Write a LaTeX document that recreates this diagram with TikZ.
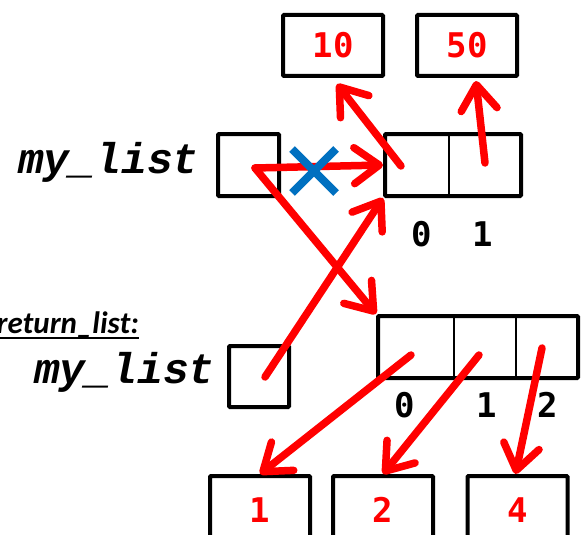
\documentclass[tikz,border=0pt]{standalone}
\usepackage{fontspec}
\newfontfamily\codefont{Liberation Mono}
\newfontfamily\numfont{DejaVu Sans Mono}
\newfontfamily\notefont{Carlito}
\usetikzlibrary{arrows.meta,shapes.misc}

\tikzset{
  caja/.style={draw, line width=4pt, rounded corners=1pt, inner sep=0pt},
  valor/.style={caja, minimum width=100pt, text=red, font=\numfont\bfseries\fontsize{34}{34}\selectfont},
  indice/.style={font=\numfont\bfseries\fontsize{34}{34}\selectfont, inner sep=0pt},
  nombre/.style={font=\codefont\bfseries\itshape\fontsize{43}{43}\selectfont, inner sep=0pt, anchor=base east},
  divisor/.style={line width=2pt},
  flecha/.style={draw=red, line width=7.5pt, line cap=round, -{Straight Barb[length=25pt,width=36pt,round]}}
}

\begin{document}
\begin{tikzpicture}[x=1pt,y=-1pt]
    \useasboundingbox (0,0) rectangle (584,535);

    % Valores de arriba
    \node[valor, minimum height=61pt] (diez) at (333,45.5) {10};
    \node[valor, minimum height=61pt] (cincuenta) at (467,45.5) {50};

    % Variable y lista original
    \node[nombre] (nombre1) at (199,173) {my\_list};
    \node[caja, minimum width=61pt, minimum height=62pt] (var1) at (248.5,165) {};
    \node[caja, minimum width=136pt, minimum height=62pt] (lista1) at (453,165) {};
    \draw[divisor] (449,0 |- lista1.north) -- (449,0 |- lista1.south);
    \node[indice] (i10) at (422,234) {0};
    \node[indice] (i11) at (483,234) {1};

    % Lista devuelta
    \node[font=\notefont\bfseries\itshape\fontsize{31}{31}\selectfont, inner sep=0pt, anchor=base east] (nota) at (139,333) {return\_list:};
    \draw[line width=2.5pt] ([yshift=-5pt]nota.base west) -- ([yshift=-5pt]nota.base east);
    \node[nombre] (nombre2) at (215,383) {my\_list};
    \node[caja, minimum width=60pt, minimum height=61pt] (var2) at (259,376.5) {};
    \node[caja, minimum width=200pt, minimum height=62pt] (lista2) at (478,347) {};
    \draw[divisor] (454,0 |- lista2.north) -- (454,0 |- lista2.south);
    \draw[divisor] (516,0 |- lista2.north) -- (516,0 |- lista2.south);
    \node[indice] (i20) at (405,405) {0};
    \node[indice] (i21) at (487,405) {1};
    \node[indice] (i22) at (548,405) {2};

    % Valores de abajo
    \node[valor, minimum height=68pt] (uno) at (260,510) {1};
    \node[valor, minimum height=68pt] (dos) at (383,510) {2};
    \node[valor, minimum height=68pt] (cuatro) at (517.5,510) {4};

    % Puntos de salida
    \coordinate (p1) at (255,168);
    \coordinate (p2) at (265,377);
    \coordinate (l1c0) at (401,166);
    \coordinate (l1c1) at (485,163);
    \coordinate (l2c0) at (411,355);
    \coordinate (l2c1) at (479,355);
    \coordinate (l2c2) at (542,348);

    % Flechas
    \draw[flecha] (p1) -- (lista1.west);
    \draw[flecha] (p1) -- (lista2.north west);
    \draw[flecha] (p2) -- (lista1.south west);
    \draw[flecha] (l1c0) -- ([xshift=4pt,yshift=-6pt]diez.south);
    \draw[flecha] (l1c1) -- ([xshift=9pt,yshift=-3pt]cincuenta.south);
    \draw[flecha] (l2c0) -- (uno.north);
    \draw[flecha] (l2c1) -- (dos.north);
    \draw[flecha] (l2c2) -- ([xshift=-2pt]cuatro.north);

    % Cruz
    \node[cross out, draw={rgb,255:red,0;green,112;blue,192}, line width=8pt, minimum size=36pt, inner sep=0pt] (tache) at (314,171) {};

\end{tikzpicture}
\end{document}
